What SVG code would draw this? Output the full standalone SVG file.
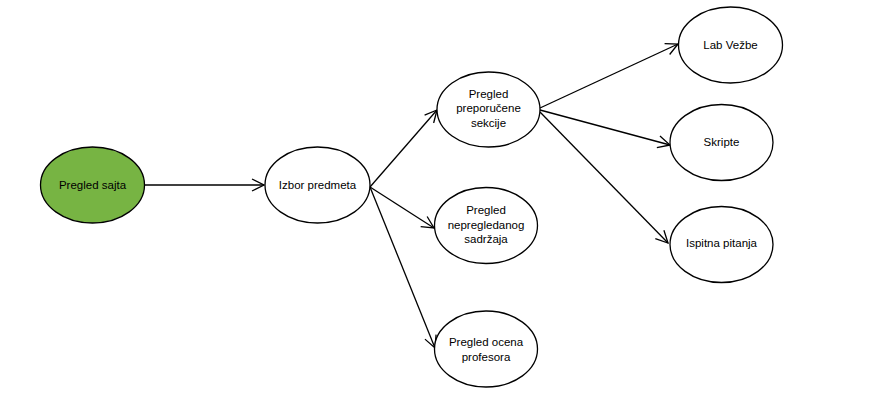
<svg xmlns="http://www.w3.org/2000/svg" width="877" height="409" viewBox="0 0 877 409">
  <style>
    .node { fill: #ffffff; stroke: #000000; stroke-width: 1.3; }
    .root { fill: #77b443; }
    .label { font-family: "Liberation Sans", Arial, sans-serif; font-size: 11.5px; fill: #000000; text-anchor: middle; dominant-baseline: central; }
    .edge { stroke: #000000; stroke-width: 1.3; fill: none; marker-end: url(#arrow); }
  </style>
  <defs>
    <marker id="arrow" viewBox="0 0 14 14" refX="13" refY="7" markerWidth="14" markerHeight="14" markerUnits="userSpaceOnUse" orient="auto">
      <path d="M1,1 L13,7 L1,13" fill="none" stroke="#000000" stroke-width="1.3"/>
    </marker>
  </defs>
  <rect width="877" height="409" fill="#ffffff"/>

  <g id="connectors">
    <line class="edge" x1="145" y1="185" x2="264" y2="185"/>
    <line class="edge" x1="370" y1="187" x2="437" y2="110"/>
    <line class="edge" x1="370" y1="187" x2="434" y2="228"/>
    <line class="edge" x1="370" y1="187" x2="435" y2="348"/>
    <line class="edge" x1="540" y1="108" x2="678" y2="44"/>
    <line class="edge" x1="540" y1="110" x2="670" y2="145"/>
    <line class="edge" x1="540" y1="112" x2="668" y2="243"/>
  </g>

  <g id="pregled-sajta">
    <ellipse class="node root" cx="92.5" cy="185" rx="52" ry="38"/>
    <text class="label" x="92.5" y="185">Pregled sajta</text>
  </g>

  <g id="izbor-predmeta">
    <ellipse class="node" cx="317.5" cy="185" rx="52.5" ry="38"/>
    <text class="label" x="317.5" y="185">Izbor predmeta</text>
  </g>

  <g id="preporucene-sekcije">
    <ellipse class="node" cx="488.5" cy="109.5" rx="51.5" ry="37.5"/>
    <text class="label" x="488.5" y="93.5">Pregled</text>
    <text class="label" x="488.5" y="108">preporučene</text>
    <text class="label" x="488.5" y="122.5">sekcije</text>
  </g>

  <g id="nepregledani-sadrzaj">
    <ellipse class="node" cx="486" cy="225.5" rx="51.5" ry="38"/>
    <text class="label" x="486" y="210">Pregled</text>
    <text class="label" x="486" y="224.5">nepregledanog</text>
    <text class="label" x="486" y="239">sadržaja</text>
  </g>

  <g id="ocena-profesora">
    <ellipse class="node" cx="486" cy="349" rx="51.5" ry="38"/>
    <text class="label" x="486" y="342">Pregled ocena</text>
    <text class="label" x="486" y="356.5">profesora</text>
  </g>

  <g id="lab-vezbe">
    <ellipse class="node" cx="730.5" cy="45" rx="52" ry="38"/>
    <text class="label" x="730.5" y="44.5">Lab Vežbe</text>
  </g>

  <g id="skripte">
    <ellipse class="node" cx="721.5" cy="142.5" rx="51.5" ry="38"/>
    <text class="label" x="721.5" y="142">Skripte</text>
  </g>

  <g id="ispitna-pitanja">
    <ellipse class="node" cx="721.5" cy="244.5" rx="51.5" ry="38"/>
    <text class="label" x="721.5" y="243">Ispitna pitanja</text>
  </g>
</svg>
